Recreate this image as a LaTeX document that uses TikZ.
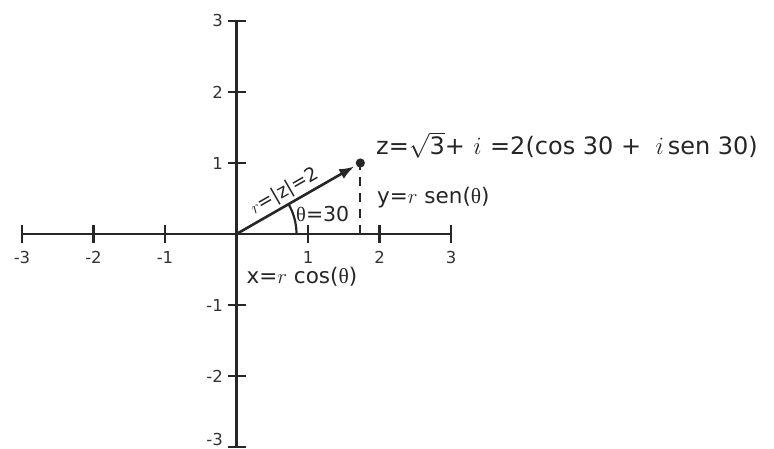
\documentclass[tikz,border=0pt]{standalone}
\usepackage{fontspec}
\setmainfont{DejaVu Sans}
\newfontfamily\thfont{Liberation Serif}
\usetikzlibrary{arrows.meta}
\newcommand{\thsym}{{\thfont θ}}
\begin{document}
\begin{tikzpicture}[x=1pt,y=1pt,
  axisline/.style={line width=2.6pt, draw=black!85},
  ticklbl/.style={inner sep=0pt, font=\fontsize{16.5}{19}\selectfont, text=black!80},
  anglbl/.style={inner sep=0pt, font=\fontsize{20.5}{24}\selectfont, text=black!85, anchor=base west},
  zlbl/.style={inner sep=0pt, font=\fontsize{24}{28}\selectfont, text=black!85, anchor=base west},
  midlbl/.style={inner sep=0pt, font=\fontsize{21.5}{25}\selectfont, text=black!85, anchor=base west},
  vec/.style={line width=2.6pt, draw=black!85, -{Latex[length=15pt,width=11pt]}, shorten >=7pt},
  dashline/.style={line width=2.2pt, draw=black!85, dash pattern=on 9pt off 7pt},
  anglearc/.style={line width=2.2pt, draw=black!85}
]
\useasboundingbox (0,0) rectangle (774,449);
\begin{scope}[shift={(236.5pt,215pt)}, x=71.5pt, y=71pt]
  \coordinate (O) at (0,0);
  \coordinate (Z) at ({sqrt(3)},1);
  \coordinate (P) at ({sqrt(3)},0);
  % axes
  \draw[axisline] (-3,0) -- (3,0);
  \draw[axisline] (0,-3) -- (0,3);
  \foreach \i in {-3,-2,-1,1,2,3} {
    \draw[axisline] ([yshift=-9pt]\i,0) -- ([yshift=9pt]\i,0);
    \draw[axisline] ([xshift=-9pt]0,\i) -- ([xshift=9pt]0,\i);
    \node[ticklbl, anchor=north] (xl\i) at ([yshift=-17pt]\i,0) {\i};
  }
  \foreach \i in {-2,-1,1,2,3} {
    \node[ticklbl, anchor=east] (yl\i) at ([xshift=-13.5pt]0,\i) {\i};
  }
  \node[ticklbl, anchor=east] (yl-3) at ([xshift=-13.5pt,yshift=8pt]0,-3) {-3};
  % dashed projection
  \draw[dashline] (P) -- (Z);
  % angle arc
  \draw[anglearc] ([xshift=60pt]O) arc[start angle=0, end angle=30, radius=60pt];
  % vector
  \draw[vec] (O) -- node[sloped, above=2pt, pos=0.44, inner sep=0pt, font=\fontsize{19}{22}\selectfont, text=black!85] (rl) {$r$=|z|=2} (Z);
  \fill[black!85] (Z) circle[radius=4.6pt];
\end{scope}
\node[anglbl] (th) at (296,227.5) {\thsym=30};
\node[zlbl] (zl) at (376,294) {z=$\sqrt{\hbox{3}}$+\hspace{0.35em}$i$\hspace{0.35em}=2(cos 30 +\hspace{0.6em}$i$\,sen 30)};
\node[midlbl] (yl) at (377,245) {y=$r$ sen(\thsym)};
\node[midlbl] (xl) at (246.5,165) {x=$r$ cos(\thsym)};
\end{tikzpicture}
\end{document}
